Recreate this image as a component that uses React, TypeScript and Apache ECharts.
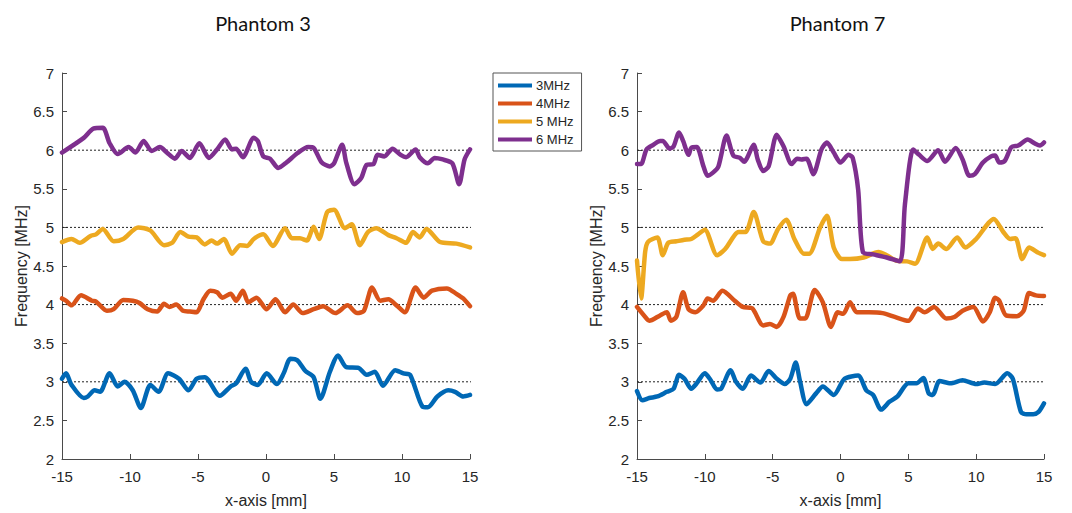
import React, { useEffect, useRef } from "react";
import * as echarts from "echarts";

// ---------- DATA ----------
const TITLES = ["Phantom 3", "Phantom 7"];
const SERIES_NAMES = ["3MHz", "4MHz", "5 MHz", "6 MHz"];
const COLORS = ["#0068B5", "#D95319", "#EDA920", "#7E2F8E"];
const REF_LEVELS = [3, 4, 5, 6];
const REF_X = [-15, 16.9];

// Phantom 3
const p3_3MHz = [
  [-15, 3.04], [-14.7, 3.11], [-14.3, 2.96], [-13.4, 2.79], [-13.1, 2.81], [-12.6, 2.89], [-12.2, 2.87],
  [-11.5, 3.11], [-10.9, 2.94], [-10.4, 3.0], [-9.8, 2.89], [-9.2, 2.66], [-8.5, 2.96], [-7.9, 2.87],
  [-7.2, 3.11], [-6.4, 3.04], [-5.7, 2.89], [-5.1, 3.04], [-4.5, 3.06], [-3.4, 2.82], [-2.6, 2.94],
  [-2.2, 2.98], [-1.5, 3.17], [-1.1, 3.0], [-0.6, 2.96], [0.05, 3.11], [0.8, 2.97], [1.3, 3.11],
  [1.8, 3.3], [2.3, 3.28], [2.9, 3.14], [3.5, 3.06], [4.0, 2.78], [4.7, 3.13], [5.3, 3.34],
  [5.9, 3.19], [6.8, 3.18], [7.4, 3.09], [8.0, 3.13], [8.6, 2.95], [9.5, 3.15], [10.1, 3.11],
  [10.6, 3.09], [11.5, 2.68], [11.9, 2.67], [12.6, 2.81], [13.4, 2.89], [13.9, 2.87], [14.5, 2.81], [15, 2.83],
];
const p3_4MHz = [
  [-15, 4.08], [-14.7, 4.05], [-14.3, 3.99], [-13.6, 4.12], [-12.8, 4.05], [-12.5, 4.04], [-11.7, 3.92],
  [-11.2, 3.94], [-10.5, 4.06], [-9.8, 4.05], [-9.3, 4.02], [-8.7, 3.94], [-8.0, 3.91], [-7.5, 4.01],
  [-7.1, 3.97], [-6.6, 4.0], [-6.1, 3.92], [-5.6, 3.91], [-5.1, 3.9], [-4.6, 4.07], [-4.1, 4.18],
  [-3.6, 4.16], [-3.2, 4.09], [-2.6, 4.14], [-2.2, 4.05], [-1.7, 4.18], [-1.3, 4.03], [-0.7, 4.09],
  [0.05, 3.94], [0.7, 4.07], [1.4, 3.9], [2.0, 4.0], [2.7, 3.89], [3.5, 3.94], [4.2, 3.98],
  [5.1, 3.89], [6.0, 3.99], [6.7, 3.89], [7.2, 3.92], [7.8, 4.22], [8.4, 4.05], [9.0, 4.07],
  [9.6, 3.99], [10.2, 3.9], [11.0, 4.22], [11.6, 4.09], [12.2, 4.18], [13.3, 4.21], [14.0, 4.14],
  [14.5, 4.08], [15, 3.98],
];
const p3_5MHz = [
  [-15, 4.81], [-14.3, 4.85], [-13.7, 4.8], [-12.9, 4.89], [-12.5, 4.91], [-12.0, 4.98], [-11.2, 4.82],
  [-10.5, 4.85], [-9.4, 5.0], [-8.5, 4.96], [-7.5, 4.77], [-6.9, 4.8], [-6.3, 4.94], [-5.7, 4.88],
  [-5.1, 4.87], [-4.5, 4.78], [-4.0, 4.83], [-3.6, 4.79], [-3.1, 4.85], [-2.5, 4.66], [-1.9, 4.77],
  [-1.4, 4.76], [-0.9, 4.85], [-0.2, 4.91], [0.5, 4.76], [1.4, 4.99], [1.9, 4.86], [2.5, 4.86],
  [3.0, 4.83], [3.5, 5.01], [3.9, 4.85], [4.5, 5.2], [5.0, 5.23], [5.8, 4.99], [6.3, 5.04],
  [6.9, 4.77], [7.5, 4.94], [8.1, 4.99], [9.0, 4.9], [9.6, 4.86], [10.3, 4.8], [10.8, 4.94],
  [11.3, 4.87], [11.8, 4.98], [12.8, 4.81], [14.0, 4.79], [15, 4.74],
];
const p3_6MHz = [
  [-15, 5.97], [-13.4, 6.16], [-12.7, 6.28], [-12.0, 6.29], [-11.5, 6.09], [-10.9, 5.95], [-10.1, 6.04],
  [-9.6, 5.97], [-9.0, 6.12], [-8.4, 5.99], [-7.8, 6.04], [-7.3, 5.97], [-6.7, 5.89], [-6.2, 5.99],
  [-5.6, 5.9], [-4.9, 6.09], [-4.2, 5.9], [-3.6, 6.01], [-3.0, 6.14], [-2.5, 6.01], [-2.2, 6.02],
  [-1.7, 5.91], [-0.9, 6.16], [-0.6, 6.12], [-0.2, 5.92], [0.3, 5.89], [0.9, 5.77], [1.5, 5.84],
  [2.3, 5.96], [3.1, 6.04], [3.5, 6.03], [4.1, 5.84], [4.7, 5.79], [5.0, 5.83], [5.6, 6.07],
  [5.9, 5.84], [6.5, 5.56], [7.0, 5.64], [7.4, 5.81], [7.9, 5.82], [8.2, 5.94], [8.7, 5.92],
  [9.3, 6.02], [9.9, 5.94], [10.3, 5.91], [11.0, 6.01], [11.3, 5.91], [11.9, 5.83], [12.4, 5.9],
  [13.0, 5.88], [13.7, 5.83], [14.2, 5.56], [14.6, 5.88], [15, 6.01],
];

// Phantom 7
const p7_3MHz = [
  [-15, 2.88], [-14.6, 2.76], [-14.1, 2.79], [-13.5, 2.81], [-12.8, 2.87], [-12.3, 2.91], [-11.9, 3.09],
  [-11.5, 3.04], [-11.0, 2.91], [-10.6, 2.98], [-10.0, 3.11], [-9.6, 3.03], [-9.1, 2.9], [-8.8, 2.91],
  [-8.1, 3.15], [-7.7, 3.0], [-7.2, 2.91], [-6.6, 3.08], [-5.9, 2.99], [-5.3, 3.14], [-4.7, 3.04],
  [-4.1, 2.97], [-3.7, 3.04], [-3.3, 3.25], [-3.0, 3.02], [-2.5, 2.71], [-1.8, 2.85], [-1.3, 2.94],
  [-0.5, 2.83], [0.3, 3.04], [1.3, 3.08], [1.9, 2.89], [2.4, 2.83], [3.0, 2.64], [3.6, 2.74],
  [4.2, 2.81], [5.0, 2.98], [5.6, 2.98], [6.1, 3.05], [6.5, 2.85], [6.8, 2.83], [7.3, 3.01],
  [8.1, 2.98], [9.0, 3.02], [10.0, 2.97], [10.6, 2.99], [11.4, 2.97], [12.3, 3.11], [12.7, 3.04],
  [13.3, 2.61], [13.7, 2.58], [14.2, 2.58], [14.6, 2.61], [15, 2.72],
];
const p7_4MHz = [
  [-15, 3.97], [-14.3, 3.82], [-14.1, 3.79], [-13.3, 3.86], [-12.8, 3.9], [-12.5, 3.79], [-12.1, 3.84],
  [-11.6, 4.16], [-11.2, 3.94], [-10.7, 3.9], [-10.1, 3.99], [-9.8, 4.08], [-9.4, 4.05], [-8.7, 4.18],
  [-7.8, 4.05], [-7.2, 3.97], [-6.5, 3.95], [-5.7, 3.73], [-5.2, 3.75], [-4.7, 3.71], [-4.2, 3.84],
  [-3.7, 4.12], [-3.5, 4.14], [-3.0, 3.82], [-2.6, 3.82], [-1.9, 4.19], [-1.3, 4.03], [-0.7, 3.71],
  [-0.2, 3.9], [0.2, 3.88], [0.7, 4.03], [1.2, 3.9], [2.1, 3.9], [3.1, 3.89], [4.0, 3.84],
  [5.0, 3.79], [5.7, 3.95], [6.2, 3.9], [6.9, 3.97], [7.8, 3.82], [8.4, 3.84], [9.0, 3.92],
  [9.8, 3.97], [10.5, 3.78], [11.0, 3.9], [11.4, 4.09], [11.7, 4.05], [12.2, 3.86], [13.0, 3.85],
  [13.5, 3.92], [13.9, 4.15], [14.4, 4.12], [15, 4.11],
];
const p7_5MHz = [
  [-15, 4.57], [-14.7, 4.08], [-14.4, 4.68], [-14.2, 4.81], [-13.5, 4.87], [-13.1, 4.64], [-12.7, 4.8],
  [-12.1, 4.82], [-11.5, 4.84], [-11.0, 4.85], [-10.5, 4.91], [-10.0, 4.97], [-9.1, 4.64], [-8.5, 4.72],
  [-7.5, 4.94], [-7.0, 4.94], [-6.4, 5.2], [-5.7, 4.82], [-5.2, 4.79], [-4.6, 4.98], [-4.0, 5.1],
  [-3.4, 4.85], [-2.7, 4.66], [-2.3, 4.66], [-1.5, 5.0], [-1.0, 5.15], [-0.5, 4.74], [0.1, 4.59],
  [0.7, 4.59], [1.7, 4.61], [2.8, 4.68], [3.4, 4.64], [4.1, 4.57], [4.9, 4.56], [5.5, 4.53],
  [6.4, 4.87], [6.8, 4.72], [7.2, 4.79], [7.8, 4.72], [8.6, 4.87], [9.2, 4.74], [10.0, 4.85],
  [11.3, 5.11], [12.0, 4.94], [12.5, 4.85], [12.9, 4.86], [13.4, 4.59], [13.9, 4.74], [14.6, 4.67],
  [15, 4.64],
];
const p7_6MHz = [
  [-15, 5.82], [-14.7, 5.82], [-14.3, 6.01], [-13.8, 6.07], [-13.3, 6.12], [-13.1, 6.12], [-12.6, 6.02],
  [-12.3, 6.05], [-11.9, 6.23], [-11.6, 6.12], [-11.2, 5.94], [-11.0, 6.03], [-10.6, 6.04], [-10.1, 5.79],
  [-9.8, 5.67], [-9.4, 5.71], [-9.0, 5.79], [-8.4, 6.19], [-7.9, 5.93], [-7.4, 5.9], [-7.1, 5.85],
  [-6.4, 6.07], [-6.1, 5.88], [-5.7, 5.73], [-5.3, 5.79], [-4.7, 6.2], [-4.2, 6.05], [-3.6, 5.82],
  [-3.2, 5.89], [-2.9, 5.88], [-2.5, 5.89], [-2.0, 5.69], [-1.4, 6.01], [-1.0, 6.1], [-0.5, 5.97],
  [0.0, 5.84], [0.6, 5.94], [0.9, 5.9], [1.3, 5.49], [1.65, 4.68], [2.4, 4.65], [3.4, 4.61],
  [4.38, 4.56], [4.75, 5.3], [5.36, 6.01], [5.8, 5.94], [6.4, 5.86], [7.2, 6.0], [7.7, 5.85],
  [8.5, 6.03], [9.0, 5.88], [9.5, 5.67], [9.9, 5.69], [10.5, 5.84], [11.1, 5.92], [11.4, 5.93],
  [11.7, 5.84], [12.1, 5.86], [12.6, 6.04], [13.1, 6.06], [13.8, 6.14], [14.3, 6.09], [14.7, 6.06],
  [15, 6.1],
];

const PANELS = [
  [p3_3MHz, p3_4MHz, p3_5MHz, p3_6MHz],
  [p7_3MHz, p7_4MHz, p7_5MHz, p7_6MHz],
];

const X_MIN = -15, X_MAX = 15, X_STEP = 5;
const Y_MIN = 2, Y_MAX = 7, Y_STEP = 0.5;

// ---------- LAYOUT / STYLE ----------
const GRIDS = [
  { left: 62, top: 73, width: 408, height: 388 },
  { left: 637, top: 73, width: 407, height: 388 },
];
const AXIS_COLOR = "#4a4a4a";
const TEXT_COLOR = "#262626";
const AXIS_FONT = "'Liberation Sans', Arial, sans-serif";

export default function App() {
  const ref = useRef<HTMLDivElement>(null);
  useEffect(() => {
    if (!ref.current) return;
    const chart = echarts.init(ref.current, null, { renderer: "svg" });

    const xAxes: any[] = [];
    const yAxes: any[] = [];
    const series: any[] = [];

    GRIDS.forEach((_, gi) => {
      xAxes.push({
        gridIndex: gi,
        type: "value",
        min: X_MIN,
        max: X_MAX,
        interval: X_STEP,
        name: "x-axis [mm]",
        nameLocation: "middle",
        nameGap: 33,
        nameTextStyle: { fontSize: 16, color: TEXT_COLOR, fontFamily: AXIS_FONT },
        axisLine: { show: true, onZero: false, lineStyle: { color: AXIS_COLOR, width: 1 } },
        axisTick: { show: true, inside: true, length: 5, lineStyle: { color: AXIS_COLOR } },
        axisLabel: { fontSize: 15, color: TEXT_COLOR, margin: 10, fontFamily: AXIS_FONT },
        splitLine: { show: false },
      });
      yAxes.push({
        gridIndex: gi,
        type: "value",
        min: Y_MIN,
        max: Y_MAX,
        interval: Y_STEP,
        name: "Frequency [MHz]",
        nameLocation: "middle",
        nameGap: 33,
        nameTextStyle: { fontSize: 16, color: TEXT_COLOR, fontFamily: AXIS_FONT },
        axisLine: { show: true, onZero: false, lineStyle: { color: AXIS_COLOR, width: 1 } },
        axisTick: { show: true, inside: true, length: 5, lineStyle: { color: AXIS_COLOR } },
        axisLabel: { fontSize: 15, color: TEXT_COLOR, margin: 8, fontFamily: AXIS_FONT },
        splitLine: { show: false },
      });

      REF_LEVELS.forEach((lv) => {
        series.push({
          name: "ref" + gi + "_" + lv,
          type: "line",
          xAxisIndex: gi,
          yAxisIndex: gi,
          data: REF_X.map((x) => [x, lv]),
          clip: false,
          showSymbol: false,
          silent: true,
          z: 1,
          lineStyle: { color: "#222", width: 1, type: [2, 2] },
        });
      });

      PANELS[gi].forEach((d, si) => {
        series.push({
          name: SERIES_NAMES[si],
          type: "line",
          xAxisIndex: gi,
          yAxisIndex: gi,
          data: d,
          showSymbol: false,
          smooth: 0.25,
          z: 3,
          color: COLORS[si],
          lineStyle: { color: COLORS[si], width: 4.5, cap: "round", join: "round" },
        });
      });
    });

    chart.setOption({
      animation: false,
      backgroundColor: "#ffffff",
      title: TITLES.map((t, i) => ({
        text: t,
        left: GRIDS[i].left + GRIDS[i].width / 2 - 8,
        top: 8,
        textAlign: "center",
        textStyle: { fontSize: 20, fontWeight: "normal", color: "#111", fontFamily: "Lato, 'Open Sans', sans-serif" },
      })),
      legend: {
        data: SERIES_NAMES,
        orient: "vertical",
        left: 493,
        top: 73,
        width: 87,
        backgroundColor: "#ffffff",
        borderColor: "#555",
        borderWidth: 1,
        borderRadius: 0,
        padding: [6, 8, 5, 5],
        itemWidth: 34,
        itemHeight: 4,
        itemGap: 5,
        icon: "rect",
        textStyle: { fontSize: 13, color: TEXT_COLOR, fontFamily: AXIS_FONT, padding: [0, 0, 0, -1] },
        z: 10,
      },
      grid: GRIDS.map((g) => ({ ...g, containLabel: false })),
      xAxis: xAxes,
      yAxis: yAxes,
      series,
    });

    return () => chart.dispose();
  }, []);

  return (
    <div
      ref={ref}
      style={{ position: "absolute", left: 0, top: 0, width: 1072, height: 513, background: "#fff" }}
    />
  );
}
